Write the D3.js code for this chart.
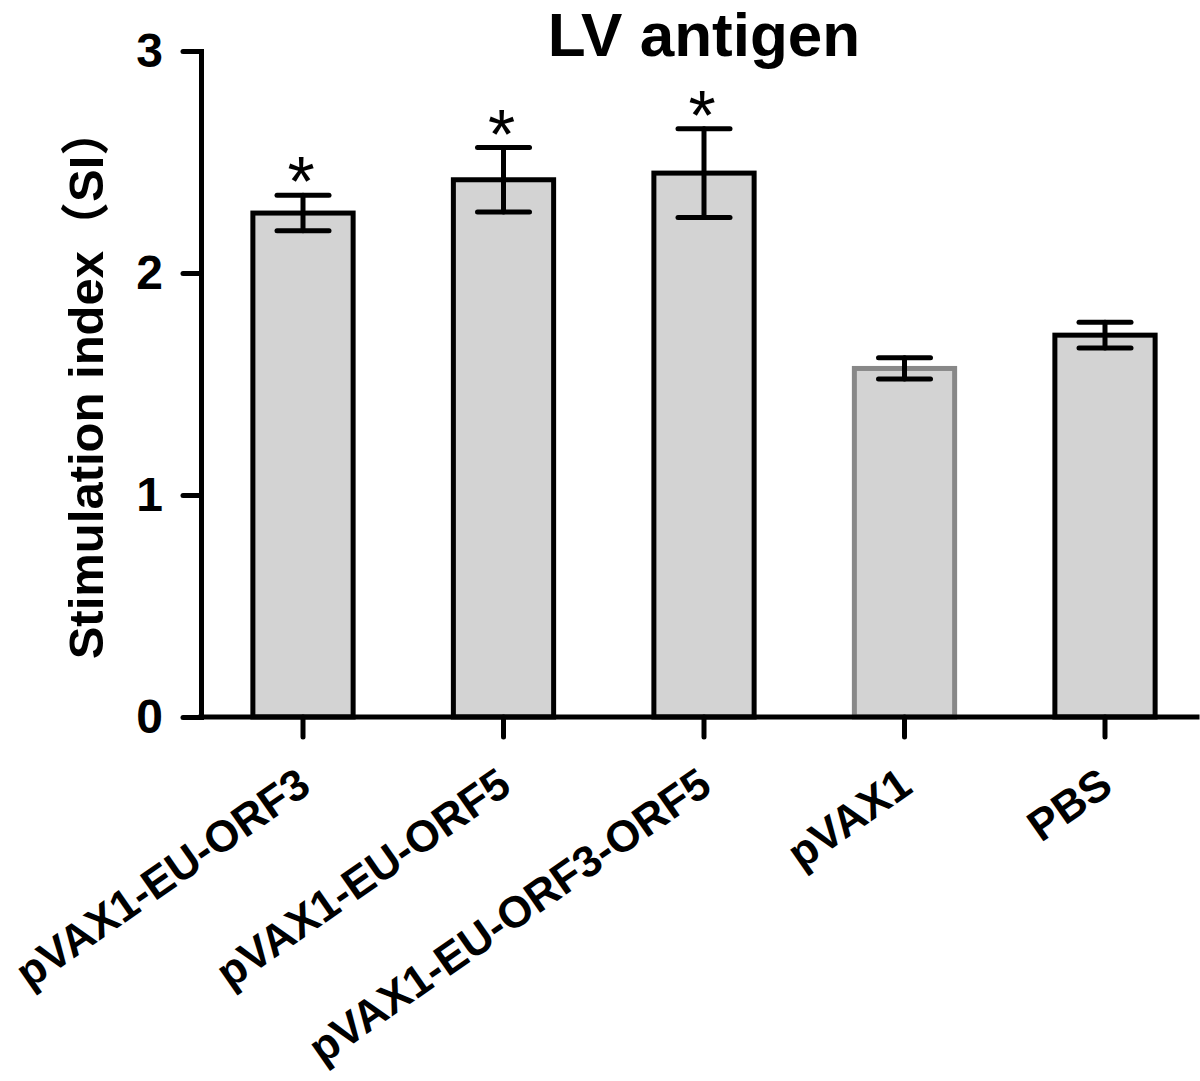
<!DOCTYPE html>
<html>
<head>
<meta charset="utf-8">
<script src="https://cdn.jsdelivr.net/npm/d3@7"></script>
<style>
  html, body { margin: 0; padding: 0; background: #fff; }
  svg { display: block; }
  text { font-family: "Liberation Sans", Arial, "Noto Sans CJK SC", sans-serif; font-weight: bold; fill: #000; }
</style>
</head>
<body>
<svg id="chart" width="1200" height="1081"></svg>
<script>
// ---- data ----
const categories = ["pVAX1-EU-ORF3", "pVAX1-EU-ORF5", "pVAX1-EU-ORF3-ORF5", "pVAX1", "PBS"];
const means      = [2.27, 2.42, 2.45, 1.57, 1.72];
const errors     = [0.08, 0.145, 0.20, 0.048, 0.058];
const stars      = ["*", "*", "*", "", ""];
const outlineColors = ["#000", "#000", "#000", "#888", "#000"];
const yTicks     = [0, 1, 2, 3];
const title      = "LV antigen";
const yLabel     = "Stimulation index\uFF08SI\uFF09";

// ---- layout ----
const svg = d3.select("#chart");
const axisX = 201, axisRight = 1197;
const y = d3.scaleLinear().domain([0, 3]).range([717, 51]);
const x = d3.scaleBand().domain(categories).range([202.75, 1205.25])
  .paddingInner(0.5).paddingOuter(0.25);

// title
svg.append("text").attr("x", 704).attr("y", 56).attr("text-anchor", "middle")
  .style("font-size", "62px").text(title);

// y label
svg.append("text").attr("transform", "translate(103,383) rotate(-90)")
  .attr("text-anchor", "middle").style("font-size", "49px").text(yLabel);

// bars
const data = categories.map((c, i) => ({ c, m: means[i], e: errors[i], s: stars[i], col: outlineColors[i] }));
svg.append("g").selectAll("rect").data(data).join("rect")
  .attr("x", d => x(d.c)).attr("width", x.bandwidth())
  .attr("y", d => y(d.m)).attr("height", d => y(0) - y(d.m))
  .attr("fill", "#d3d3d3").attr("stroke", d => d.col).attr("stroke-width", 5);

// error bars
const eb = svg.append("g").attr("stroke", "#000").attr("stroke-width", 5).attr("stroke-linecap", "round");
const cap = 26;
data.forEach(d => {
  const cx = x(d.c) + x.bandwidth() / 2;
  eb.append("line").attr("x1", cx).attr("x2", cx).attr("y1", y(d.m + d.e)).attr("y2", y(d.m - d.e));
  eb.append("line").attr("x1", cx - cap).attr("x2", cx + cap).attr("y1", y(d.m + d.e)).attr("y2", y(d.m + d.e));
  eb.append("line").attr("x1", cx - cap).attr("x2", cx + cap).attr("y1", y(d.m - d.e)).attr("y2", y(d.m - d.e));
});

// significance stars
svg.append("g").selectAll("text").data(data.filter(d => d.s)).join("text")
  .attr("x", d => x(d.c) + x.bandwidth() / 2 - 2).attr("y", d => y(d.m + d.e) + 11)
  .attr("text-anchor", "middle").style("font-size", "70px").style("font-weight", "normal").text(d => d.s);

// y axis
const yAxis = svg.append("g").attr("transform", `translate(${axisX},0)`)
  .call(d3.axisLeft(y).tickValues(yTicks).tickFormat(d3.format("d")).tickSize(18).tickSizeOuter(0).tickPadding(20));
yAxis.select(".domain").attr("stroke", "#000").attr("stroke-width", 5).attr("stroke-linecap", "square");
yAxis.selectAll(".tick line").attr("stroke", "#000").attr("stroke-width", 5).attr("stroke-linecap", "round");
yAxis.selectAll(".tick text").style("font-size", "48px").attr("font-family", null).attr("font-size", null);

// x axis
const xAxis = svg.append("g").attr("transform", `translate(0,${y(0)})`)
  .call(d3.axisBottom(x).tickSize(20).tickSizeOuter(0).tickFormat(""));
xAxis.select(".domain").attr("d", `M${axisX},0H${axisRight}`).attr("stroke", "#000").attr("stroke-width", 5).attr("stroke-linecap", "square");
xAxis.selectAll(".tick line").attr("stroke", "#000").attr("stroke-width", 5).attr("stroke-linecap", "round");

// rotated category labels
svg.append("g").selectAll("text").data(categories).join("text")
  .attr("transform", d => `translate(${x(d) + x.bandwidth() / 2 + 10},${y(0) + 74}) rotate(-35)`)
  .attr("text-anchor", "end").style("font-size", "44px").text(d => d);
</script>
</body>
</html>
